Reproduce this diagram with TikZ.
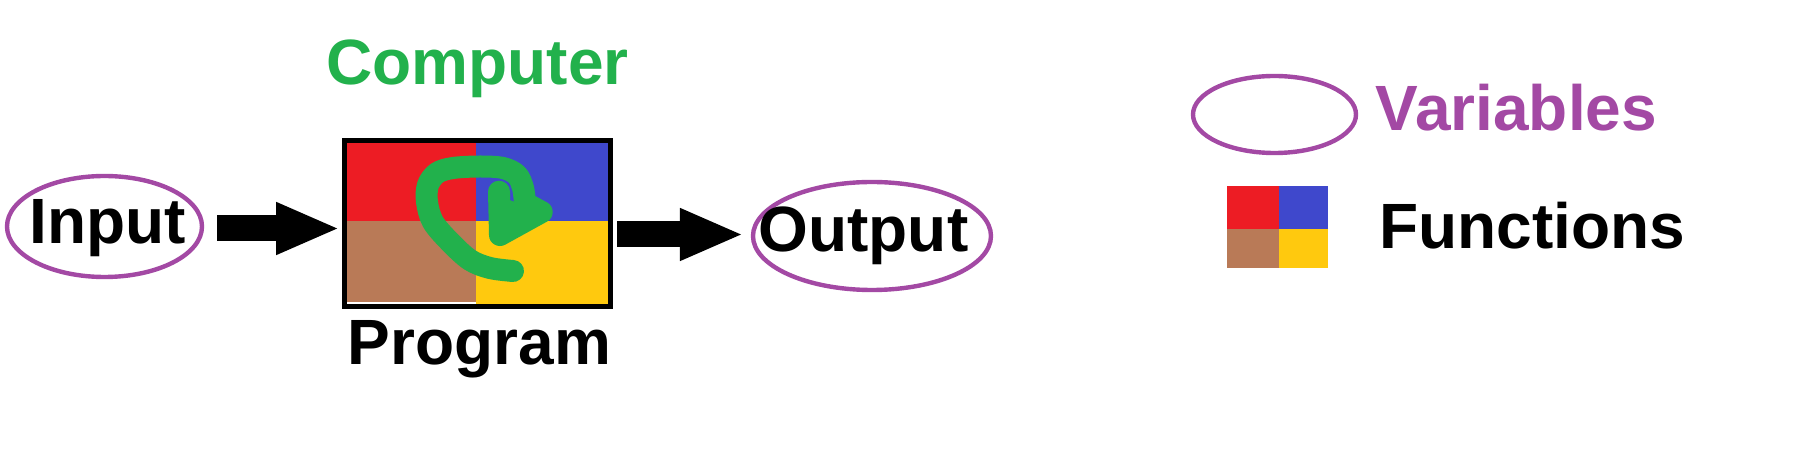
\documentclass[tikz,border=0pt]{standalone}
\usepackage{fontspec}
\setmainfont{Liberation Sans}
\usetikzlibrary{shapes.geometric,arrows.meta}
\definecolor{pred}{HTML}{ED1C24}
\definecolor{pblue}{HTML}{3F48CC}
\definecolor{pbrown}{HTML}{B97A57}
\definecolor{pyellow}{HTML}{FFC90E}
\definecolor{pgreen}{HTML}{22B14C}
\definecolor{ppurple}{HTML}{A349A4}
\tikzset{
  lbl/.style={font=\fontsize{32}{38}\selectfont\bfseries, inner sep=0pt, anchor=base},
  varell/.style={ellipse, draw=ppurple, line width=2.2pt, inner sep=0pt},
  blockarrow/.style={line width=13pt, -{Triangle[length=32pt, width=24pt]}},
  greenstroke/.style={draw=pgreen, line width=11pt, line cap=round, line join=round},
}
\begin{document}
\begin{tikzpicture}[x=0.5pt, y=-0.5pt]
\useasboundingbox[fill=white] (0,0) rectangle (1812,464);

% program box quadrants
\fill[pred] (347,143) rectangle (476,221.5);
\fill[pblue] (476,143) rectangle (608,221.5);
\fill[pbrown] (347,221.5) rectangle (476,302.5);
\fill[pyellow] (476,221.5) rectangle (608,304);
% green loop
\draw[greenstroke] plot[smooth, tension=0.55] coordinates {
  (513,271) (490,268) (470,260) (450,242) (433,222) (427,202) (428,185)
  (437,173) (453,168) (480,166.5) (503,168) (517,175) (523,188) (525,203)}
  -- (541.7,212) -- (500,235) -- (499,191.7);
\fill[pgreen] (499,196) -- (541.7,212) -- (500,235) -- cycle;
\node[draw=black, line width=2.5pt, inner sep=0pt, minimum width=133pt, minimum height=83pt] (prog) at (477.5,223.5) {};

% ellipses (variables)
\node[varell, minimum width=97.5pt, minimum height=50.5pt] (in) at (104.5,226.5) {};
\node[varell, minimum width=119pt, minimum height=54pt] (out) at (872,236) {};
\node[varell, minimum width=81.5pt, minimum height=38.5pt] (legvar) at (1274.5,114.5) {};

% texts
\node[lbl] (intext) at (107.5,244) {Input};
\node[lbl] (outtext) at (863.5,252) {Output};
\node[lbl, text=pgreen] (comp) at (477.5,85) {Computer};
\node[lbl] (progtext) at (479.5,365) {Program};
\node[lbl, text=ppurple] (vartext) at (1516.5,131) {Variables};
\node[lbl] (functext) at (1532.5,249) {Functions};

% arrows
\coordinate (ya) at (0,228.5);
\coordinate (yb) at (0,234.5);
\draw[blockarrow, shorten <=6.5pt, shorten >=1pt] (in.east |- ya) -- (prog.west |- ya);
\draw[blockarrow, shorten <=2pt, shorten >=3.5pt] (prog.east |- yb) -- (out.west |- yb);

% legend functions square
\fill[pred] (1227,186) rectangle (1279,229);
\fill[pblue] (1279,186) rectangle (1328,229);
\fill[pbrown] (1227,229) rectangle (1279,268);
\fill[pyellow] (1279,229) rectangle (1328,268);
\end{tikzpicture}
\end{document}
